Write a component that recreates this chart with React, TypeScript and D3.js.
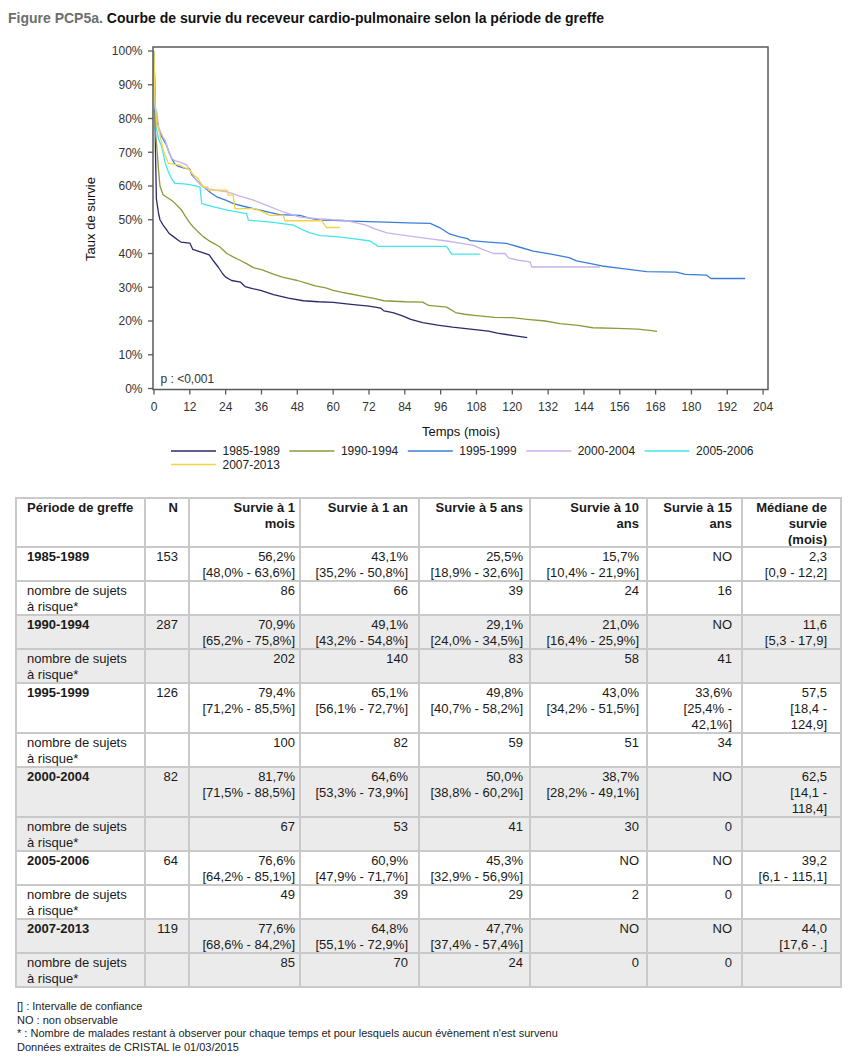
import React from "react";
import * as d3 from "d3";

type Pt = [number, number];

const periods = ["1985-1989", "1990-1994", "1995-1999", "2000-2004", "2005-2006", "2007-2013"];
const colors = ["#2b2b6b", "#8a9b3c", "#3a7ed8", "#c9b2e8", "#42e6ee", "#f4d443"];

const curve1985: Pt[] = [[0,100],[0.2,90],[0.5,70],[0.8,56.2],[1.5,52],[2,50],[3,48.5],[4,47.3],[5,46],[6.5,45],[8,44],[9,43.4],[12,43.1],[13,41.2],[16,40.3],[18.5,39.6],[20,37.7],[21.5,36],[23,34],[24,33],[26,32],[29,31.5],[30.5,30.2],[33,29.6],[36,29],[40,27.8],[45,26.8],[50,26],[55,25.7],[60,25.5],[66,24.9],[72,24.4],[76,23.8],[77,23],[80,22.5],[83,21.6],[86,20.5],[90,19.5],[95,18.8],[100,18.2],[106,17.6],[112,17],[115,16.4],[118,16],[121,15.6],[125,15.1]];
const curve1990: Pt[] = [[0,100],[0.2,85],[0.5,76],[1,70.9],[1.5,65],[2,60],[3,57.5],[4,56.8],[5.5,56],[6.5,55.3],[8,54],[9.3,52.8],[10.5,51],[12,49.1],[13,48],[14.8,46.4],[16.5,45],[18.2,43.9],[20,43],[22,42],[24.4,40],[26.5,39],[28.8,38],[31,37],[33.3,35.8],[36,35.2],[40,33.9],[43,33],[45.6,32.5],[48,32],[51,31.2],[54,30.4],[57.5,29.8],[60,29.1],[63,28.5],[66,28],[70,27.3],[74,26.6],[77,26],[84,25.7],[90,25.6],[92,24.6],[98,24.1],[101,22.5],[104,22],[108,21.6],[114,21.1],[120,21],[125,20.5],[131,20],[136,19.2],[142,18.7],[147,18],[155,17.8],[162,17.6],[166,17.2],[168.5,16.9]];
const curve1995: Pt[] = [[0,100],[0.2,90],[0.4,82],[1,79.4],[2,75.6],[3,74],[4.2,72.1],[5,70],[5.9,68.2],[7,66.5],[8,65.9],[10.4,65.2],[12,65.1],[12.6,63.4],[14,62],[15.4,60.7],[17,59.5],[19,58],[21,56.8],[24,55.8],[26.6,54.8],[30,54],[33.3,53.3],[38,52.3],[42,51.5],[48.9,51.3],[52,50.5],[55.6,49.9],[60,49.8],[66,49.6],[75,49.4],[85,49.1],[92.5,48.9],[96,47.5],[99,45.8],[102,45],[105,44.4],[106,43.8],[112,43.4],[118,43],[122,42],[127,40.7],[133,39.8],[139,38.8],[141.5,37.8],[145,37.2],[150,36.3],[157,35.5],[165,34.6],[175,34.5],[178,33.8],[185,33.6],[186.5,32.6],[198,32.6]];
const curve2000: Pt[] = [[0,100],[0.2,90],[0.4,83],[1,81.7],[1.5,77.5],[3,74.5],[3.7,73.6],[5,70],[5.9,68.2],[7,67.5],[9,67],[11,66.2],[12,64.6],[14,62],[16,60],[17.7,59.2],[21,58.7],[24.4,58.3],[28,57.2],[33.3,55.8],[38,54.2],[43.3,52.3],[48.9,50.8],[55,50.3],[60,50],[63.4,49.9],[67,49.2],[71,48.4],[74,47.3],[78,46.1],[85,45.2],[92,44.4],[98,43.7],[103,43],[107,42.4],[110,41.2],[113.7,40],[117.6,40],[118.7,38.7],[122,38],[126,37.5],[126.5,36],[149.4,36]];
const curve2005: Pt[] = [[0,100],[0.2,88],[0.5,83.5],[0.9,76.6],[1.5,74],[2.6,71.6],[3.7,67],[4.8,64.2],[6,62],[7,60.8],[10,60.6],[12,60.4],[15.4,59.7],[16,54.8],[20,53.8],[25,52.8],[31,51.8],[31.6,49.9],[40,49.2],[46.7,48.4],[48.9,47.4],[52,46.2],[55.6,45.3],[60,45.1],[66,44.5],[72.4,43.7],[75.1,42.1],[98,42.1],[99.7,39.8],[109.2,39.8]];
const curve2007: Pt[] = [[0,100],[0.3,85],[1,77.6],[1.4,77.5],[3.1,70.6],[4.8,66.7],[8.7,66.2],[10,65.5],[12,64.8],[13,63.5],[14.8,62.2],[16.5,59.7],[18,59.7],[18.2,58.8],[24.4,58.8],[24.9,57.3],[26.5,57.3],[27.1,53.3],[33.8,53.3],[36,52.5],[38.9,51.3],[43.3,51.3],[43.9,49.7],[56.2,49.7],[57.8,47.7],[62.3,47.7]];
const curves = [curve1985, curve1990, curve1995, curve2000, curve2005, curve2007];

const xTicks = d3.range(0, 205, 12);
const yTicks = d3.range(0, 101, 10);

// Table data
const headers = [["Période de greffe"], ["N"], ["Survie à 1", "mois"], ["Survie à 1 an"], ["Survie à 5 ans"], ["Survie à 10", "ans"], ["Survie à 15", "ans"], ["Médiane de", "survie", "(mois)"]];
const nValues = ["153", "287", "126", "82", "64", "119"];
const surv1m = ["56,2%", "70,9%", "79,4%", "81,7%", "76,6%", "77,6%"];
const ci1m = ["[48,0% - 63,6%]", "[65,2% - 75,8%]", "[71,2% - 85,5%]", "[71,5% - 88,5%]", "[64,2% - 85,1%]", "[68,6% - 84,2%]"];
const surv1y = ["43,1%", "49,1%", "65,1%", "64,6%", "60,9%", "64,8%"];
const ci1y = ["[35,2% - 50,8%]", "[43,2% - 54,8%]", "[56,1% - 72,7%]", "[53,3% - 73,9%]", "[47,9% - 71,7%]", "[55,1% - 72,9%]"];
const surv5y = ["25,5%", "29,1%", "49,8%", "50,0%", "45,3%", "47,7%"];
const ci5y = ["[18,9% - 32,6%]", "[24,0% - 34,5%]", "[40,7% - 58,2%]", "[38,8% - 60,2%]", "[32,9% - 56,9%]", "[37,4% - 57,4%]"];
const surv10y = ["15,7%", "21,0%", "43,0%", "38,7%", "NO", "NO"];
const ci10y: string[][] = [["[10,4% - 21,9%]"], ["[16,4% - 25,9%]"], ["[34,2% - 51,5%]"], ["[28,2% - 49,1%]"], [], []];
const surv15y = ["NO", "NO", "33,6%", "NO", "NO", "NO"];
const ci15y: string[][] = [[], [], ["[25,4% -", "42,1%]"], [], [], []];
const medians = ["2,3", "11,6", "57,5", "62,5", "39,2", "44,0"];
const medianCi: string[][] = [["[0,9 - 12,2]"], ["[5,3 - 17,9]"], ["[18,4 -", "124,9]"], ["[14,1 -", "118,4]"], ["[6,1 - 115,1]"], ["[17,6 - .]"]];
const atRisk = [
  ["86", "66", "39", "24", "16"],
  ["202", "140", "83", "58", "41"],
  ["100", "82", "59", "51", "34"],
  ["67", "53", "41", "30", "0"],
  ["49", "39", "29", "2", "0"],
  ["85", "70", "24", "0", "0"],
];
const atRiskLabel = ["nombre de sujets", "à risque*"];
const footnotes = [
  "[] : Intervalle de confiance",
  "NO : non observable",
  "* : Nombre de malades restant à observer pour chaque temps et pour lesquels aucun évènement n'est survenu",
  "Données extraites de CRISTAL le 01/03/2015",
];

const FONT = "'Liberation Sans', Arial, Helvetica, sans-serif";

export default function App() {
  const x = d3.scaleLinear().domain([0, 204]).range([154, 763.1]);
  const y = d3.scaleLinear().domain([0, 100]).range([388.5, 51]);
  const line = d3.line<Pt>().x((d) => x(d[0])).y((d) => y(d[1]));

  const frameL = 153, frameR = 768, frameT = 47, frameB = 389.5;
  const axisColor = "#5a5a5a";

  // Table layout
  const colEdges = [16, 145, 189, 300, 419, 530, 647, 742, 841];
  const rightText = [178, 295, 408, 523, 639, 732, 827];
  const leftText = 27;
  const lineH = 16;
  const headerTop = 498;
  const headerH = 49;
  const tfs = 13;

  type Row = { cells: string[][]; bold: boolean; gray: boolean; lines: number };
  const rows: Row[] = [];
  periods.forEach((p, i) => {
    const cells: string[][] = [
      [p],
      [nValues[i]],
      [surv1m[i], ci1m[i]],
      [surv1y[i], ci1y[i]],
      [surv5y[i], ci5y[i]],
      [surv10y[i], ...ci10y[i]],
      [surv15y[i], ...ci15y[i]],
      [medians[i], ...medianCi[i]],
    ];
    const lines = Math.max(...cells.map((c) => c.length));
    rows.push({ cells, bold: true, gray: i % 2 === 1, lines });
    rows.push({ cells: [atRiskLabel, [], ...atRisk[i].map((v) => [v]), []], bold: false, gray: i % 2 === 1, lines: 2 });
  });
  const rowTops: number[] = [];
  let yy = headerTop + headerH;
  rows.forEach((r) => {
    rowTops.push(yy);
    yy += r.lines * lineH + 2;
  });
  const tableBottom = yy;

  const legendX = (i: number) => 171 + (i % 5) * 118.4;
  const legendY = (i: number) => 451 + Math.floor(i / 5) * 13.5;

  const renderCell = (texts: string[], ci: number, top: number, bold: boolean, key: string) =>
    texts.map((t, li) => (
      <text
        key={key + "-" + li}
        x={ci === 0 ? leftText : rightText[ci - 1]}
        y={top + 13.5 + li * lineH}
        textAnchor={ci === 0 ? "start" : "end"}
        fontSize={tfs}
        fontWeight={bold && ci === 0 ? "bold" : "normal"}
        fill="#1a1a1a"
      >
        {t}
      </text>
    ));

  return (
    <svg
      width={851}
      height={1060}
      style={{ position: "absolute", left: 0, top: 0, background: "#fff" }}
      fontFamily={FONT}
    >
      <rect x={0} y={0} width={851} height={1060} fill="#fff" />
      {/* Title */}
      <text x={8} y={23} fontSize={14} fontWeight="bold">
        <tspan fill="#6e6e6e">Figure PCP5a. </tspan>
        <tspan fill="#111">Courbe de survie du receveur cardio-pulmonaire selon la période de greffe</tspan>
      </text>

      {/* Curves */}
      <g fill="none" strokeWidth={1.3} strokeLinejoin="round">
        {curves.map((c, i) => (
          <path key={i} d={line(c) || ""} stroke={colors[i]} />
        ))}
      </g>

      {/* Frame */}
      <rect x={frameL} y={frameT} width={frameR - frameL} height={frameB - frameT} fill="none" stroke={axisColor} strokeWidth={1.5} />
      {yTicks.map((t) => (
        <g key={"y" + t}>
          <line x1={frameL - 5} x2={frameL} y1={y(t)} y2={y(t)} stroke={axisColor} strokeWidth={1.3} />
          <text x={142.5} y={y(t) + 4.3} textAnchor="end" fontSize={12} fill="#333">
            {t + "%"}
          </text>
        </g>
      ))}
      {xTicks.map((t) => (
        <g key={"x" + t}>
          <line x1={x(t)} x2={x(t)} y1={frameB} y2={frameB + 5} stroke={axisColor} strokeWidth={1.3} />
          <text x={x(t)} y={411} textAnchor="middle" fontSize={12} fill="#333">
            {t}
          </text>
        </g>
      ))}
      <text x={160.5} y={383.3} fontSize={12} fill="#333">p : &lt;0,001</text>
      <text transform="translate(94.5,219) rotate(-90)" textAnchor="middle" fontSize={13} fill="#111">
        Taux de survie
      </text>
      <text x={461} y={436} textAnchor="middle" fontSize={13} fill="#111">
        Temps (mois)
      </text>

      {/* Legend */}
      {periods.map((p, i) => (
        <g key={"lg" + p}>
          <line x1={legendX(i)} x2={legendX(i) + 45} y1={legendY(i)} y2={legendY(i)} stroke={colors[i]} strokeWidth={1.5} />
          <text x={legendX(i) + 51.5} y={legendY(i) + 4.2} fontSize={12} fill="#222">
            {p}
          </text>
        </g>
      ))}

      {/* Table backgrounds */}
      {rows.map((r, i) =>
        r.gray ? (
          <rect key={"bg" + i} x={colEdges[0]} y={rowTops[i]} width={colEdges[8] - colEdges[0]} height={r.lines * lineH + 2} fill="#ebebeb" />
        ) : null
      )}
      {/* Header */}
      {headers.map((h, ci) =>
        h.map((t, li) => (
          <text
            key={"h" + ci + "-" + li}
            x={ci === 0 ? leftText : rightText[ci - 1]}
            y={headerTop + 13.5 + li * lineH}
            textAnchor={ci === 0 ? "start" : "end"}
            fontSize={tfs}
            fontWeight="bold"
            fill="#1a1a1a"
          >
            {t}
          </text>
        ))
      )}
      {rows.map((r, ri) => r.cells.map((c, ci) => renderCell(c, ci, rowTops[ri], r.bold, "c" + ri + "-" + ci)))}

      {/* Grid */}
      <g stroke="#c9c9c9" strokeWidth={2}>
        {[headerTop, ...rowTops, tableBottom].map((yv, i) => (
          <line key={"hl" + i} x1={colEdges[0] - 1} x2={colEdges[8] + 1} y1={yv} y2={yv} />
        ))}
        {colEdges.map((xv, i) => (
          <line key={"vl" + i} x1={xv} x2={xv} y1={headerTop} y2={tableBottom} />
        ))}
      </g>

      {/* Footnotes */}
      {footnotes.map((f, i) => (
        <text key={"fn" + i} x={17} y={1010 + i * 13.6} fontSize={11} fill="#222">
          {f}
        </text>
      ))}
    </svg>
  );
}
